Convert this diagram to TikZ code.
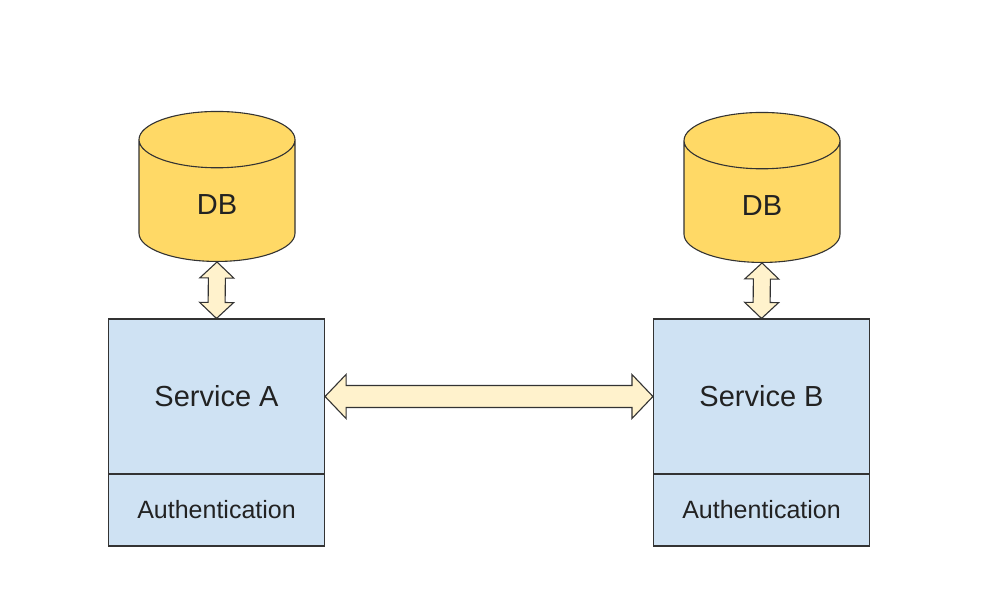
\documentclass[tikz,border=0pt]{standalone}
\usepackage{fontspec}
\setmainfont{Liberation Sans}
\usetikzlibrary{shapes.geometric}
\usetikzlibrary{calc}
\pgfdeclarelayer{edgelayer}
\pgfdeclarelayer{nodelayer}
\pgfsetlayers{edgelayer,nodelayer,main}
\definecolor{dbyellow}{HTML}{FFD966}
\definecolor{serviceblue}{HTML}{CFE2F3}
\definecolor{arrowcream}{HTML}{FFF2CC}
\definecolor{linegrey}{HTML}{333333}
\definecolor{textgrey}{HTML}{222222}
\tikzstyle{db}=[cylinder,shape border rotate=90,aspect=1.2,draw=linegrey,fill=dbyellow,line width=1.1pt,minimum width=156pt,minimum height=150pt,anchor=south,text=textgrey,font=\fontsize{29}{34}\selectfont]
\tikzstyle{service}=[rectangle,draw=linegrey,fill=serviceblue,line width=1.1pt,minimum width=216pt,minimum height=155pt,text=textgrey,font=\fontsize{29}{34}\selectfont]
\tikzstyle{auth}=[rectangle,draw=linegrey,fill=serviceblue,line width=1.1pt,minimum width=216pt,minimum height=72pt,text=textgrey,font=\fontsize{25}{30}\selectfont]
\tikzstyle{head size}=[head size store/.code n args={3}{\def\ahl{##1}\def\ahw{##2}\def\asw{##3}},head size store=#1]
\tikzstyle{blockarrow}=[draw=linegrey,fill=arrowcream,line width=1.1pt,line join=miter,head size={{16}{17}{8.5}},
	to path={let \p1=(\tikztostart), \p2=(\tikztotarget),
		\n1={veclen(\x2-\x1,\y2-\y1)}, \n2={(\x2-\x1)/\n1}, \n3={(\y2-\y1)/\n1} in
		(\p1) -- ({\x1+\ahl*\n2-\ahw*\n3},{\y1+\ahl*\n3+\ahw*\n2})
		-- ({\x1+\ahl*\n2-\asw*\n3},{\y1+\ahl*\n3+\asw*\n2})
		-- ({\x2-\ahl*\n2-\asw*\n3},{\y2-\ahl*\n3+\asw*\n2})
		-- ({\x2-\ahl*\n2-\ahw*\n3},{\y2-\ahl*\n3+\ahw*\n2})
		-- (\p2)
		-- ({\x2-\ahl*\n2+\ahw*\n3},{\y2-\ahl*\n3-\ahw*\n2})
		-- ({\x2-\ahl*\n2+\asw*\n3},{\y2-\ahl*\n3-\asw*\n2})
		-- ({\x1+\ahl*\n2+\asw*\n3},{\y1+\ahl*\n3-\asw*\n2})
		-- ({\x1+\ahl*\n2+\ahw*\n3},{\y1+\ahl*\n3-\ahw*\n2})
		-- cycle}]
\begin{document}
\begin{tikzpicture}[x=1pt,y=-1pt]
	\useasboundingbox (0,0) rectangle (994,594);
	\begin{pgfonlayer}{nodelayer}
		\node [style=db] (0) at (217, 262) {DB};
		\node [style=service] (1) at (216.5, 396.5) {Service A};
		\node [style=auth] (2) at (216.5, 510) {Authentication};
		\node [style=db] (3) at (762, 263) {DB};
		\node [style=service] (4) at (761.5, 396.5) {Service B};
		\node [style=auth] (5) at (761.5, 510) {Authentication};
	\end{pgfonlayer}
	\begin{pgfonlayer}{edgelayer}
		\draw [style=blockarrow] (0.south) to (1.north);
		\draw [style=blockarrow] (3.south) to (4.north);
		\draw [style=blockarrow, head size={{21}{22}{11}}] (1.east) to (4.west);
	\end{pgfonlayer}
\end{tikzpicture}
\end{document}
